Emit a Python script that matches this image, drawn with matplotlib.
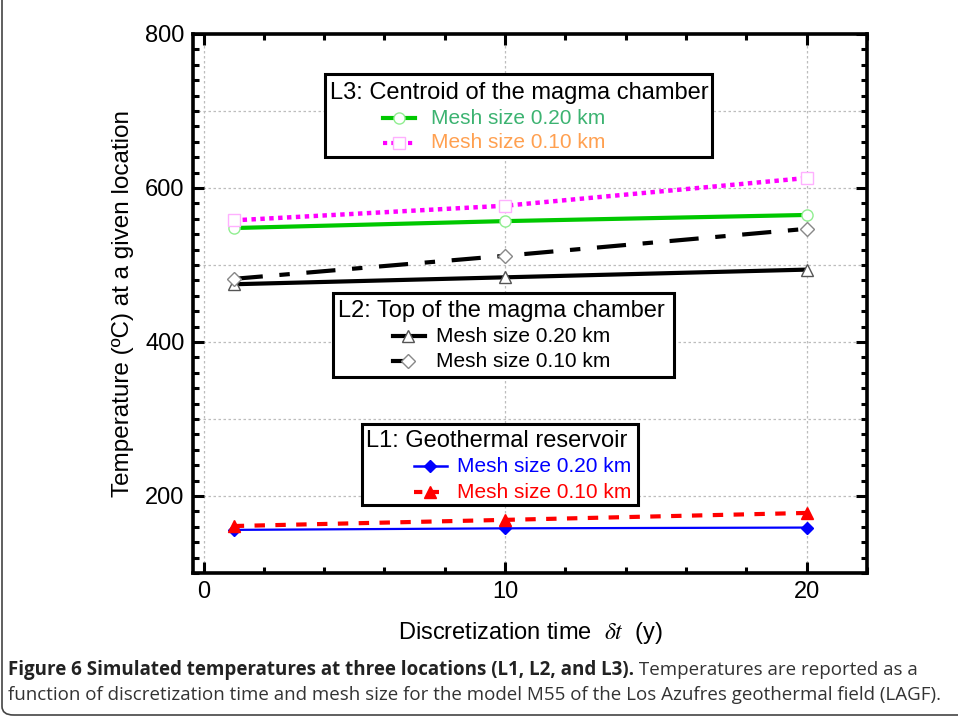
import matplotlib
matplotlib.use("Agg")
import matplotlib.pyplot as plt
from matplotlib.ticker import MultipleLocator, FixedLocator
from matplotlib.patches import Rectangle, FancyBboxPatch
from matplotlib.lines import Line2D

plt.rcParams['font.family'] = ['Liberation Sans', 'DejaVu Sans']
plt.rcParams['mathtext.fontset'] = 'stix'

# ---------------- data ----------------
dt = [1, 10, 20]
l3_mesh020 = [548, 557, 565]
l3_mesh010 = [558, 577, 613]
l2_mesh020 = [475, 484, 494]
l2_mesh010 = [482, 512, 547]
l1_mesh020 = [156, 158, 159]
l1_mesh010 = [161, 169, 178]

x_ticks = [0, 10, 20]
y_ticks = [200, 400, 600, 800]
y_grid = [100, 200, 300, 400, 500, 600, 700, 800]

W, H = 958, 717
fig = plt.figure(figsize=(W / 100, H / 100), dpi=100)
AX_L, AX_R, AX_T, AX_B = 193, 867, 34, 573
ax = fig.add_axes([AX_L / W, 1 - AX_B / H, (AX_R - AX_L) / W, (AX_B - AX_T) / H])

# grid
for g in y_grid:
    ax.axhline(g, color='#bdbdbd', lw=0.9, ls=(0, (2, 2)), zorder=0)
for g in x_ticks:
    ax.axvline(g, color='#bdbdbd', lw=0.9, ls=(0, (2, 2)), zorder=0)

# L3
ax.plot(dt, l3_mesh020, color='#00c800', lw=3, zorder=3)
ax.plot(dt, l3_mesh020, ls='none', marker='o', ms=8, mfc='white', mec='#90ee90', mew=1, zorder=4)
ax.plot(dt, l3_mesh010, color='#ff00ff', lw=3.2, ls=(0, (1, 1)), zorder=3)
ax.plot(dt, l3_mesh010, ls='none', marker='s', ms=8, mfc='white', mec='#ffb0ff', mew=1, zorder=4)
# L2
ax.plot(dt, l2_mesh020, color='black', lw=3, zorder=3)
ax.plot(dt, l2_mesh020, ls='none', marker='^', ms=9, mfc='white', mec='#555555', mew=1, zorder=4)
ax.plot(dt, l2_mesh010, color='black', lw=3, ls=(0, (7, 4, 2.5, 4)), zorder=3)
ax.plot(dt, l2_mesh010, ls='none', marker='D', ms=7, mfc='white', mec='#888888', mew=1, zorder=4)
# L1
ax.plot(dt, l1_mesh020, color='#0000ff', lw=1.6, marker='D', ms=6.5, mfc='#0000ff', mec='#0000ff', zorder=3)
ax.plot(dt, l1_mesh010, color='#ff0000', lw=3, ls=(0, (2.5, 2.5)), zorder=3)
ax.plot(dt, l1_mesh010, ls='none', marker='^', ms=9, mfc='#ff0000', mec='#ff0000', zorder=4)

ax.set_xlim(-0.35, 22)
ax.set_ylim(100, 800)
ax.xaxis.set_major_locator(FixedLocator(x_ticks))
ax.xaxis.set_minor_locator(MultipleLocator(2))
ax.yaxis.set_major_locator(FixedLocator(y_ticks))
ax.yaxis.set_minor_locator(MultipleLocator(20))
ax.tick_params(which='both', direction='in', top=True, right=True, width=2.2)
ax.tick_params(which='major', length=8, labelsize=17, pad=6)
ax.tick_params(which='minor', length=4.5)
for s in ax.spines.values():
    s.set_linewidth(2.6)

ax.set_ylabel('Temperature (ºC) at a given location', fontsize=17.5, labelpad=8)
ax.set_xlabel(r'Discretization time  $\delta t$  (y)', fontsize=17, labelpad=12)


def fx(px):
    return (px - AX_L) / (AX_R - AX_L)


def fy(py):
    return (AX_B - py) / (AX_B - AX_T)


def legend_box(box, title, title_pos, entries, fs_title=17, fs_entry=15):
    x0, y0, x1, y1 = box
    ax.add_patch(Rectangle((fx(x0), fy(y1)), fx(x1) - fx(x0), fy(y0) - fy(y1),
                           transform=ax.transAxes, facecolor='white', edgecolor='black',
                           lw=2.2, zorder=6, clip_on=False))
    ax.text(fx(title_pos[0]), fy(title_pos[1]), title, transform=ax.transAxes,
            ha='left', va='center', fontsize=fs_title, zorder=7)
    for e in entries:
        y = fy(e['y'])
        hx0, hx1 = e['hx']
        ax.add_line(Line2D([fx(hx0), fx(hx1)], [y, y], transform=ax.transAxes,
                           color=e['color'], lw=e['lw'], ls=e.get('ls', '-'), zorder=7, clip_on=False))
        ax.add_line(Line2D([fx(e['mx'])], [y], transform=ax.transAxes, ls='none',
                           marker=e['marker'], ms=e['ms'], mfc=e['mfc'], mec=e['mec'],
                           mew=1, zorder=8, clip_on=False))
        ax.text(fx(e['lx']), y, e['label'], transform=ax.transAxes, ha='left', va='center',
                fontsize=fs_entry, color=e['tcolor'], zorder=7)


legend_box((325, 74, 712, 157), 'L3: Centroid of the magma chamber', (330, 93), [
    dict(y=118, hx=(383, 415), mx=399, color='#00c800', lw=3, marker='o', ms=8, mfc='white',
         mec='#90ee90', lx=431, label='Mesh size 0.20 km', tcolor='#3cb371'),
    dict(y=143, hx=(383, 415), mx=399, color='#ff00ff', lw=3, ls=(0, (1, 1)), marker='s', ms=8,
         mfc='white', mec='#ffb0ff', lx=431, label='Mesh size 0.10 km', tcolor='#ffa050'),
])
legend_box((333, 293, 674, 377), 'L2: Top of the magma chamber', (338, 311), [
    dict(y=336, hx=(393, 425), mx=408, color='black', lw=3, marker='^', ms=9, mfc='white',
         mec='#555555', lx=436, label='Mesh size 0.20 km', tcolor='black'),
    dict(y=361, hx=(393, 405), mx=408, color='black', lw=3, marker='D', ms=7, mfc='white',
         mec='#888888', lx=436, label='Mesh size 0.10 km', tcolor='black'),
])
legend_box((362, 424, 638, 505), 'L1: Geothermal reservoir', (366, 441), [
    dict(y=466, hx=(414, 447), mx=430, color='#0000ff', lw=1.8, marker='D', ms=6.5, mfc='#0000ff',
         mec='#0000ff', lx=457, label='Mesh size 0.20 km', tcolor='#0000ff'),
    dict(y=492, hx=(414, 447), mx=430, color='#ff0000', lw=3, ls=(0, (2, 2)), marker='^', ms=9,
         mfc='#ff0000', mec='#ff0000', lx=457, label='Mesh size 0.10 km', tcolor='#ff0000'),
])

# figure frame
fig.patches.append(FancyBboxPatch((2 / W, 2 / H), 1.2, 1.2,
                                  boxstyle='round,pad=0,rounding_size=0.012',
                                  transform=fig.transFigure, facecolor='none',
                                  edgecolor='#444444', lw=1.2))

# caption
cap_font = ['Open Sans', 'DejaVu Sans']
t1 = fig.text(8 / W, 1 - 670 / H,
              'Figure 6 Simulated temperatures at three locations (L1, L2, and L3).',
              fontsize=13.5, fontweight='bold', family=cap_font, va='center', color='#222222')
ax.annotate(' Temperatures are reported as a', xy=(1, 0.5), xycoords=t1, va='center', ha='left',
            fontsize=13.5, family=cap_font, color='#333333')
fig.text(8 / W, 1 - 695 / H,
         'function of discretization time and mesh size for the model M55 of the Los Azufres '
         'geothermal field (LAGF).',
         fontsize=13.5, family=cap_font, va='center', color='#333333')

fig.savefig('out.png', dpi=100)
